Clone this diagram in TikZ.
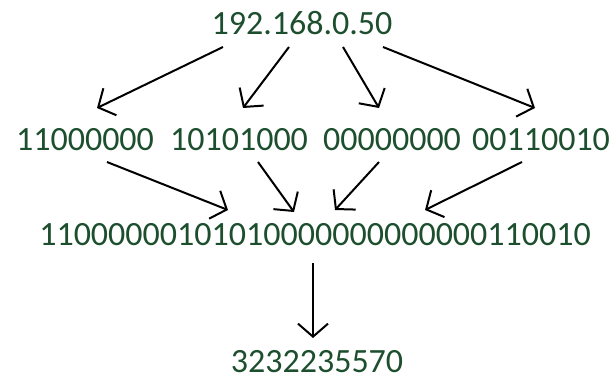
\documentclass[tikz,border=0pt]{standalone}
\usepackage{fontspec}
\setmainfont{Carlito}
\usepackage[x11names, svgnames]{xcolor}
\definecolor{ipGreen}{RGB}{29, 79, 46}
\usepackage{tikz}
\usetikzlibrary{arrows.meta, calc}

\begin{document}
\begin{tikzpicture}[x=1pt, y=-1pt, every node/.style={inner sep=0pt, outer sep=0pt, anchor=base, text=ipGreen, font=\fontsize{34}{40}\selectfont}, arr/.style={line width=2pt, -{Straight Barb[length=13pt, width=30pt]}}]
	\useasboundingbox (0, 0) rectangle (613, 381);
	% dotted address and its four octets
	\node (ip) at (302, 34) {192.168.0.50};
	\node (oct1) at (85, 150) {11000000};
	\node (oct2) at (239, 150) {10101000};
	\node (oct3) at (392, 150) {00000000};
	\node (oct4) at (541, 150) {00110010};
	\node (bits) at (315, 245) {11000000101010000000000000110010};
	\node (dec) at (317, 372) {3232235570};
	% split
	\draw [arr] ([shift={(-79, 13)}]ip.base) -- ([shift={(12, -42)}]oct1.base);
	\draw [arr] ([shift={(-13, 13)}]ip.base) -- ([shift={(4, -42)}]oct2.base);
	\draw [arr] ([shift={(41, 13)}]ip.base) -- ([shift={(-13, -42)}]oct3.base);
	\draw [arr] ([shift={(81, 13)}]ip.base) -- ([shift={(-6, -42)}]oct4.base);
	% join
	\draw [arr] ([shift={(22, 12)}]oct1.base) -- ([shift={(-87, -35)}]bits.base);
	\draw [arr] ([shift={(19, 12)}]oct2.base) -- ([shift={(-21, -33)}]bits.base);
	\draw [arr] ([shift={(-13, 12)}]oct3.base) -- ([shift={(20, -35)}]bits.base);
	\draw [arr] ([shift={(-19, 12)}]oct4.base) -- ([shift={(110, -35)}]bits.base);
	\draw [arr] ([shift={(-2, 18)}]bits.base) -- ([shift={(-4, -34)}]dec.base);

\end{tikzpicture}
\end{document}
